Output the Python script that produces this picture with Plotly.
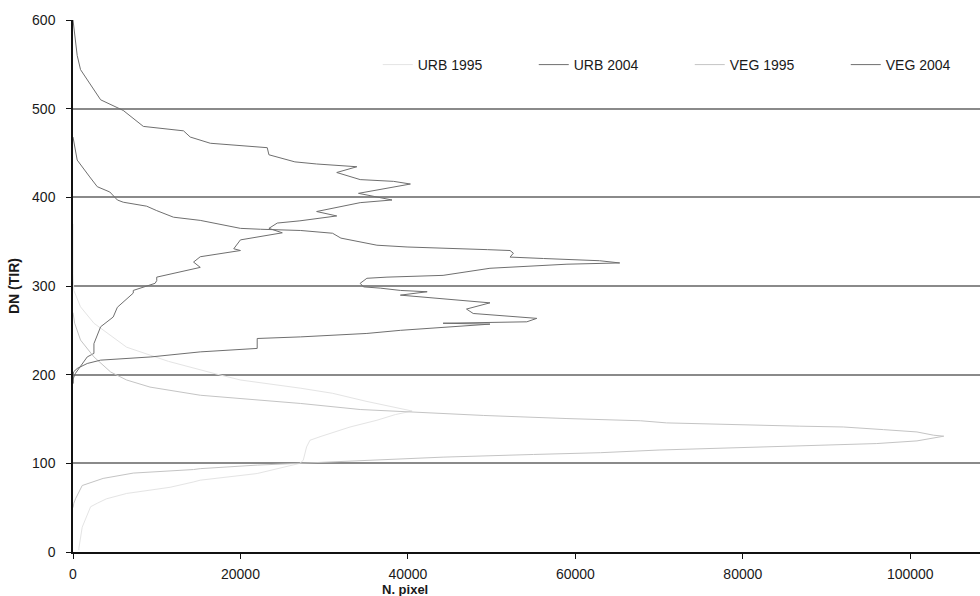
import plotly.graph_objects as go

# ---- data (DN value -> number of pixels) ----
urb1995_dn = [2, 4, 28, 43, 51, 55, 60, 66, 73, 79, 81, 88.5, 100, 103.5, 110, 118.5, 126, 130, 141,
              148.6, 155, 159, 170, 179, 184.7, 190, 194, 201, 215, 231, 239, 258, 276.5, 295, 314, 370]
urb1995_px = [700, 700, 1100, 1700, 2100, 2900, 4000, 6400, 11600, 14400, 15200, 22000, 27100, 27500,
              27700, 27900, 28300, 29500, 33100, 36300, 38500, 40500, 35000, 31000, 27200, 23200, 20000,
              17000, 11400, 6400, 5250, 2500, 900, 100, 0, 0]

urb2004_dn = [190, 195, 201.6, 209, 220, 224, 235, 254, 265, 276, 292, 295, 303, 306, 310, 321, 327,
              333, 340, 342, 352, 360, 365, 371, 373.5, 379, 384, 394, 397, 404.5, 415, 418, 420, 428,
              434.5, 437.6, 440, 448, 456, 461, 468, 475, 480, 498, 510, 544, 560, 600]
urb2004_px = [0, 0, 300, 900, 1700, 2500, 2500, 3300, 4800, 5300, 7200, 7200, 9800, 10000, 10000,
              15200, 14400, 15200, 20000, 19200, 20000, 25000, 23400, 24400, 27100, 31500, 29100, 34300,
              38100, 34100, 40300, 38300, 34300, 31500, 33900, 29100, 26500, 23400, 23200, 16400, 14000,
              13200, 8400, 6000, 3300, 900, 500, 0]

veg1995_dn = [50, 55, 60, 75, 83, 89, 93, 94, 98, 100, 104.5, 107, 110, 112, 115, 117, 118.5, 121.5,
              122.3, 125.3, 130.6, 131.7, 135.4, 138, 141, 141.9, 143, 145.6, 148, 149.8, 150.5, 154,
              159, 160.7, 167.5, 175, 176.8, 186, 194, 203, 220, 239, 258, 270]
veg1995_px = [0, 100, 300, 1100, 3600, 7200, 14400, 15200, 22000, 27100, 39000, 44200, 55000, 63000,
              70000, 77000, 83000, 90800, 96000, 100800, 104000, 102800, 100800, 96800, 92000, 86800,
              80900, 70900, 67800, 63000, 59000, 49000, 39100, 34300, 27200, 17200, 15200, 9200, 6400,
              4500, 2500, 900, 200, 0]

veg2004_dn = [190, 195, 203, 207, 212.6, 216.4, 220, 225.7, 229.6, 240.8, 242.6, 246.5, 250, 257, 258,
              259.6, 263.5, 269, 274, 281, 286, 289.7, 293.5, 295, 297.6, 299, 303, 308.7, 310, 312,
              320, 321.7, 324.6, 326, 328.5, 331, 332.6, 337, 340, 341, 344, 346, 354, 359.5, 362.6,
              364, 365, 374, 377.6, 385, 390, 394.5, 397, 406, 412, 423, 442, 468]
veg2004_px = [0, 0, 50, 500, 1700, 3300, 9300, 15200, 22000, 22000, 27200, 35100, 39100, 49800, 44200,
              54200, 55400, 47800, 47000, 49800, 43500, 39100, 42300, 39100, 36700, 34700, 34300, 35100,
              37500, 44200, 49800, 53000, 59000, 65300, 62900, 56200, 52200, 52600, 52200, 49500, 39900,
              36300, 32000, 31000, 27200, 22400, 20000, 15200, 12000, 10000, 8800, 6000, 5300, 4400,
              2900, 2000, 500, 0]

series_names = ["URB 1995", "URB 2004", "VEG 1995", "VEG 2004"]
series_colors = ["#e4e4e4", "#6f6f6f", "#c4c4c4", "#6f6f6f"]

x_ticks = [0, 20000, 40000, 60000, 80000, 100000]
y_ticks = [0, 100, 200, 300, 400, 500, 600]

FONT = "Liberation Sans, Arial, sans-serif"

fig = go.Figure()
for name, color, xs, ys in zip(series_names, series_colors,
                               [urb1995_px, urb2004_px, veg1995_px, veg2004_px],
                               [urb1995_dn, urb2004_dn, veg1995_dn, veg2004_dn]):
    fig.add_trace(go.Scatter(x=xs, y=ys, mode="lines", name=name,
                             line=dict(color=color, width=1)))

fig.update_layout(
    width=980, height=596,
    margin=dict(l=73, r=0, t=20, b=44, autoexpand=False),
    paper_bgcolor="white", plot_bgcolor="white",
    font=dict(family=FONT, size=14, color="#1a1a1a"),
    showlegend=True,
    legend=dict(orientation="h", x=0.336, y=0.9154, xanchor="left", yanchor="middle",
                xref="paper", yref="paper", bgcolor="rgba(0,0,0,0)",
                entrywidth=111, font=dict(family=FONT, size=14, color="#1a1a1a"),
                traceorder="normal"),
    xaxis=dict(range=[0, 108330], tickvals=x_ticks, ticktext=[str(v) for v in x_ticks],
               showgrid=False, zeroline=False, showline=True, linecolor="#111111", linewidth=1.5,
               ticks="outside", ticklen=5, tickcolor="#111111", tickwidth=1,
               ticklabelstandoff=3,
               tickfont=dict(family=FONT, size=14, color="#1a1a1a")),
    yaxis=dict(range=[0, 600], tickvals=y_ticks, ticktext=[str(v) for v in y_ticks],
               showgrid=True, gridcolor="#8a8a8a", gridwidth=1.5, zeroline=False,
               showline=True, linecolor="#111111", linewidth=1.5,
               ticks="outside", ticklen=5, tickcolor="#111111", tickwidth=1,
               ticklabelstandoff=8,
               tickfont=dict(family=FONT, size=14, color="#1a1a1a"),
               title=dict(text="<b>DN (TIR)</b>", font=dict(family=FONT, size=14, color="#1a1a1a"),
                          standoff=9)),
)

fig.add_annotation(text="<b>N. pixel</b>", xref="paper", yref="paper",
                   x=(405 - 73) / 907, y=-(589 - 551.7) / 531.7,
                   xanchor="center", yanchor="middle", showarrow=False,
                   font=dict(family=FONT, size=13, color="#1a1a1a"))

fig.write_html("out.html", config={"displayModeBar": False},
               post_script="document.body.style.margin='0';")
